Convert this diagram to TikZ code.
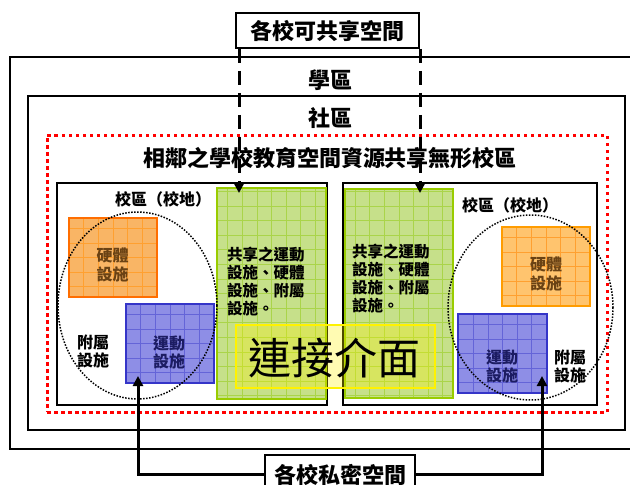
\documentclass[tikz,border=0pt]{standalone}
\usepackage{fontspec}
\setmainfont{Noto Sans CJK TC}
\usetikzlibrary{arrows.meta}
\definecolor{grassfill}{HTML}{C6E08A}
\definecolor{grassedge}{HTML}{99CC00}
\definecolor{grassgrid}{HTML}{AAD44A}
\definecolor{orafill}{HTML}{F9B565}
\definecolor{oraedge}{HTML}{FF6E00}
\definecolor{oragrid}{HTML}{FFA030}
\definecolor{orbfill}{HTML}{FFC46E}
\definecolor{orbedge}{HTML}{FF9C00}
\definecolor{bluefill}{HTML}{8E8EE6}
\definecolor{blueedge}{HTML}{3535C8}
\definecolor{bluegrid}{HTML}{6464D8}
\definecolor{brownink}{HTML}{6A4214}
\definecolor{navyink}{HTML}{1C1C62}
\begin{document}
\begin{tikzpicture}[x=1pt,y=-1pt,>={Triangle[width=10pt,length=10pt]},
	frame/.style={draw=black,line width=1.5pt,inner sep=0pt},
	tile/.style={line width=2.5pt,inner sep=0pt,path picture={
		\draw[#1,line width=0.8pt,step=14.6pt] (path picture bounding box.south west) grid (path picture bounding box.north east);}},
	big/.style={font=\fontsize{22}{22}\selectfont\bfseries},
	mid/.style={font=\fontsize{16}{18.5}\selectfont\bfseries,align=center,inner sep=0pt},
	small/.style={font=\fontsize{15.5}{18}\selectfont\bfseries,align=left,inner sep=0pt}]
	\clip (0,0) rectangle (630,485);
	% frames
	\node[frame,minimum width=635,minimum height=392] (xuequ) at (327.5,253) {};
	\node[big] (xuequtxt) at (330,80) {學區};
	\node[frame,minimum width=597,minimum height=334] (shequ) at (326.5,263) {};
	\node[big] (shequtxt) at (330,118) {社區};
	\node[draw=red,line width=3pt,dash pattern=on 3.5pt off 3.5pt,inner sep=0pt,minimum width=560,minimum height=277] (wuxing) at (327,273.5) {};
	\node[big] (wuxingtxt) at (330,158) {相鄰之學校教育空間資源共享無形校區};
	\node[frame,minimum width=270,minimum height=222] (schoolL) at (192,294) {};
	\node[frame,minimum width=254,minimum height=222] (schoolR) at (470,294) {};
	\node[mid] (nameL) at (163,199) {校區（校地）};
	\node[mid] (nameR) at (510,205) {校區（校地）};
	% shared zones
	\node[tile=grassgrid,draw=grassedge,fill=grassfill,minimum width=109,minimum height=211] (shareL) at (271.5,293.5) {};
	\node[tile=grassgrid,draw=grassedge,fill=grassfill,minimum width=108,minimum height=209] (shareR) at (399,293.5) {};
	\node[small,anchor=west] (shareLtxt) at (227,281) {共享之運動\\設施、硬體\\設施、附屬\\設施。};
	\node[small,anchor=west] (shareRtxt) at (352,278.5) {共享之運動\\設施、硬體\\設施、附屬\\設施。};
	% facilities
	\node[tile=oragrid,draw=oraedge,fill=orafill,minimum width=88,minimum height=79] (hardL) at (113,257.5) {};
	\node[tile=bluegrid,draw=blueedge,fill=bluefill,minimum width=88,minimum height=79] (sportL) at (170,343.5) {};
	\node[tile=oragrid,draw=orbedge,fill=orbfill,minimum width=88,minimum height=79] (hardR) at (546,266.5) {};
	\node[tile=bluegrid,draw=blueedge,fill=bluefill,minimum width=89,minimum height=79] (sportR) at (502.5,353.5) {};
	\node[mid,text=brownink] (hardLtxt) at (112.5,265) {硬體\\設施};
	\node[mid,text=navyink] (sportLtxt) at (169,352.5) {運動\\設施};
	\node[mid,text=brownink] (hardRtxt) at (546,274) {硬體\\設施};
	\node[mid,text=navyink] (sportRtxt) at (502,366.5) {運動\\設施};
	\node[mid] (attachL) at (93,351.5) {附屬\\設施};
	\node[mid] (attachR) at (570,366.5) {附屬\\設施};
	% campus circles
	\draw[line width=1.5pt,dash pattern=on 1.5pt off 1.5pt] (137.5,305.5) ellipse [x radius=79.5,y radius=93.5];
	\draw[line width=1.5pt,dash pattern=on 1.5pt off 1.5pt] (530.5,307.5) ellipse [x radius=82.5,y radius=92.5];
	% interface
	\node[draw=yellow,line width=2pt,fill=yellow,fill opacity=0.3,draw opacity=1,minimum width=199,minimum height=63] (link) at (335.5,356.5) {};
	\node[font=\fontsize{43}{43}\selectfont] (linktxt) at (334,358) {連接介面};
	% shared and private spaces
	\node[frame,fill=white,minimum width=183,minimum height=35,big] (common) at (327.5,30.5) {各校可共享空間};
	\node[frame,fill=white,minimum width=150,minimum height=40,big] (private) at (340,475) {各校私密空間};
	\coordinate (tipL) at (239,193);
	\coordinate (tipR) at (420,193);
	\coordinate (upL) at (138,376);
	\coordinate (upR) at (542,376);
	\draw[->,line width=3pt,dash pattern=on 14pt off 8pt] (common.south -| tipL) -- (tipL);
	\draw[->,line width=3pt,dash pattern=on 14pt off 8pt] (common.south -| tipR) -- (tipR);
	\draw[->,line width=3pt] (private.west |- 0,474) -| (upL);
	\draw[->,line width=3pt] (private.east |- 0,474) -| (upR);
\end{tikzpicture}
\end{document}
